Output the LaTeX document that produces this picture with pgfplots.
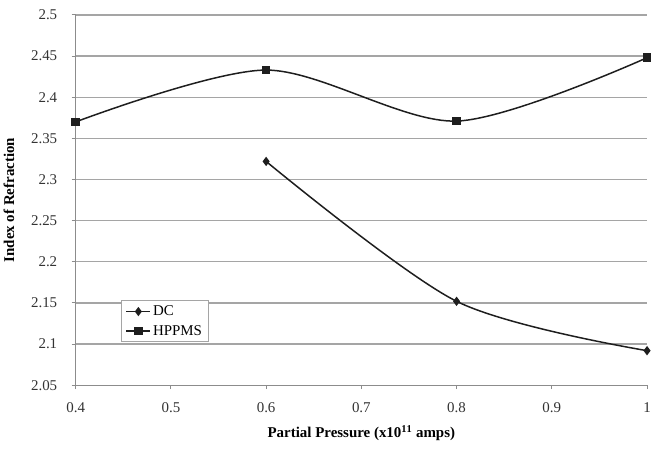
\documentclass[border=0pt]{standalone}
\usepackage{fontspec}
\setmainfont{Liberation Serif}
\usepackage{pgfplots}
\pgfplotsset{compat=1.18}
\definecolor{gridgray}{RGB}{165,165,165}
\definecolor{axisgray}{RGB}{140,140,140}
\definecolor{linedark}{RGB}{30,30,30}

\begin{document}
\begin{tikzpicture}
% frame of the page, as in the reference
\useasboundingbox (-76pt,-68pt) rectangle (583pt,387pt);
\begin{axis}[
  at={(0pt,0pt)}, anchor=south west,
  scale only axis,
  width=574pt, height=372pt,
  xmin=0.4, xmax=1.0, ymin=2.05, ymax=2.5,
  xtick={0.4,0.5,...,1.0},
  ytick={2.05,2.1,...,2.5},
  xticklabels={0.4,0.5,0.6,0.7,0.8,0.9,1},
  yticklabels={2.05,2.1,2.15,2.2,2.25,2.3,2.35,2.4,2.45,2.5},
  axis lines*=left,
  axis line style={color=axisgray, line width=1.2pt},
  tick style={color=axisgray, line width=1pt},
  tick align=outside,
  major tick length=4pt,
  ymajorgrids, grid style={color=gridgray, line width=1.2pt},
  ticklabel style={font=\fontsize{15}{17}\selectfont, color=black!80},
  xticklabel style={yshift=-10pt},
  yticklabel style={xshift=-11pt},
  xlabel={\textbf{Partial Pressure (x10$^{\mathbf{11}}$ amps)}},
  ylabel={\textbf{Index of Refraction}},
  xlabel style={font=\fontsize{15}{17}\selectfont, yshift=-6pt},
  ylabel style={font=\fontsize{15}{17}\selectfont, yshift=10pt},
  legend style={at={(axis cs:0.448,2.153)}, anchor=north west,
    draw=gridgray, line width=0.8pt, fill=white,
    font=\fontsize{15}{17}\selectfont, inner ysep=3pt, inner xsep=4pt,
    row sep=4pt},
  legend image code/.code={
    \draw[mark repeat=2, mark phase=2, #1, line width=1.4pt]
      plot coordinates {(0pt,0pt) (12pt,0pt) (24pt,0pt)};},
  legend cell align=left,
]
\addplot[color=linedark, line width=1.5pt, smooth, mark=diamond*, mark size=3.5pt,
  mark options={solid, fill=linedark}] coordinates {
  (0.6,2.322) (0.8,2.152) (1.0,2.092)
};
\addlegendentry{DC}
\addplot[color=linedark, line width=1.5pt, smooth, mark=square*, mark size=3.5pt,
  mark options={solid, fill=linedark}] coordinates {
  (0.4,2.370) (0.6,2.433) (0.8,2.371) (1.0,2.448)
};
\addlegendentry{HPPMS}
\end{axis}
\end{tikzpicture}
\end{document}
